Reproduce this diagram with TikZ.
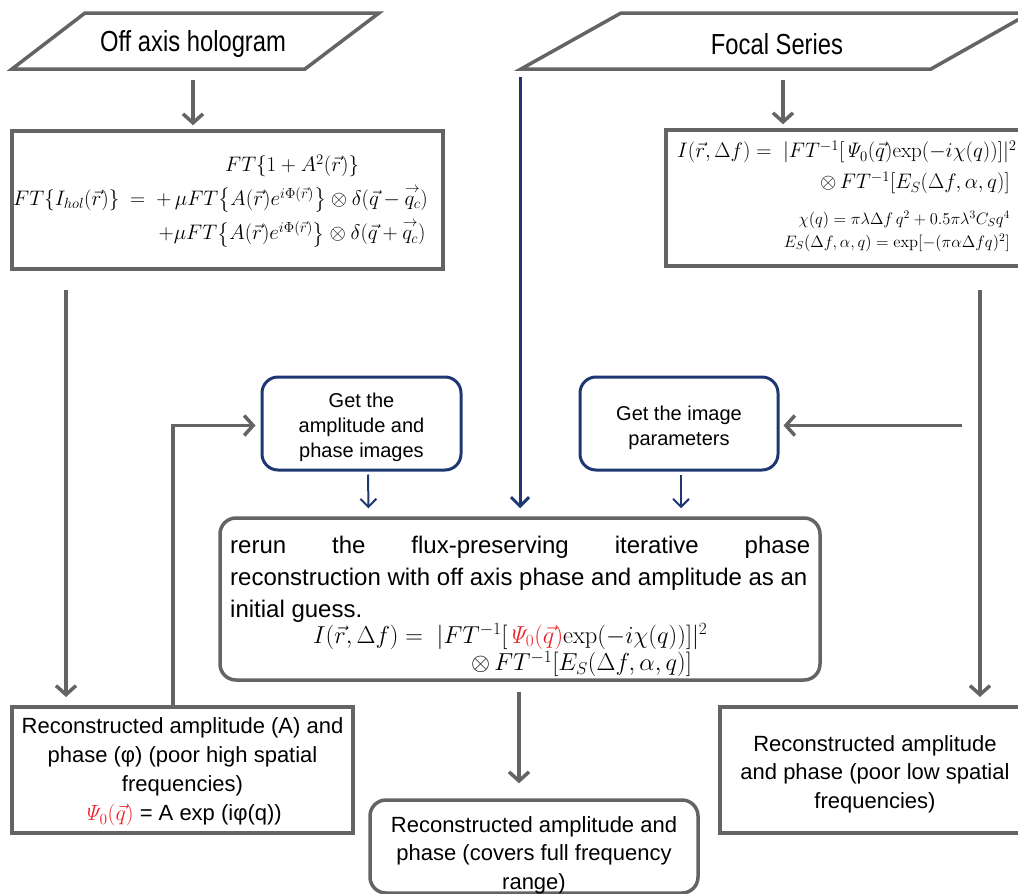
\RequirePackage{fix-cm}
\documentclass[tikz,border=0pt]{standalone}
\usepackage{amsmath}
\usepackage[no-math]{fontspec}
\setmainfont{Liberation Sans}
\newfontfamily\narrowfont[FakeStretch=0.82]{Liberation Sans}
\usetikzlibrary{arrows.meta,calc}
\definecolor{gline}{RGB}{100,100,100}
\definecolor{bline}{RGB}{30,55,115}
\definecolor{redq}{RGB}{235,30,35}
\tikzset{
  gbox/.style={draw=gline,line width=3.5pt,inner sep=0pt},
  grbox/.style={draw=gline,line width=3.5pt,rounded corners=16pt,inner sep=0pt},
  bbox/.style={draw=bline,line width=3pt,rounded corners=16pt,inner sep=0pt},
  garr/.style={draw=gline,line width=3.5pt,-{Straight Barb[length=9pt,width=20pt,line width=3.5pt]}},
  barr/.style={draw=bline,line width=2pt,-{Straight Barb[length=8pt,width=16pt,line width=2pt]}},
  blong/.style={draw=bline,line width=3pt,-{Straight Barb[length=9pt,width=18pt,line width=3pt]}},
  txt/.style={inner sep=0pt,align=center,font=\fontsize{22}{28.5}\selectfont},
  ptxt/.style={inner sep=0pt,font=\narrowfont\fontsize{29}{34}\selectfont},
  mth/.style={inner sep=0pt,font=\fontsize{21}{24}\selectfont},
  mbig/.style={inner sep=0pt,font=\fontsize{24.5}{26}\selectfont},
  mrb/.style={inner sep=0pt,font=\fontsize{21}{24}\selectfont},
  msm/.style={inner sep=0pt,font=\fontsize{16.5}{20}\selectfont},
}
\newcommand{\PsiI}{\mathit{\Psi}}
\newcommand{\qcvec}{\overset{\scriptstyle\rightarrow}{q_c}}
\begin{document}
\begin{tikzpicture}[x=1pt,y=-1pt]
\useasboundingbox (0,0) rectangle (1018,894);
% parallelograms
\draw[gline,line width=3.5pt,line join=miter] (85,13) -- (379,13) -- (305,69) -- (12,69) -- cycle;
\node[ptxt] (hol) at (193,44) {Off axis hologram};
\draw[gline,line width=3.5pt,line join=miter] (621,13) -- (1030,13) -- (931,69) -- (521,69) -- cycle;
\node[ptxt] (foc) at (777,44) {Focal Series};
\coordinate (holb) at (193,80);
\coordinate (focb) at (783,80);
\coordinate (bls) at (520,77);
% formula boxes
\node[gbox,minimum width=431pt,minimum height=138pt] (lbox) at (227.5,200) {};
\node[mth,anchor=west] (lform) at (13,199) {\renewcommand{\arraystretch}{1.42}$\begin{array}{@{}r@{\hspace{11pt}}c@{}}
  & FT\{1+A^2(\vec r)\}\\
  FT\{I_{hol}(\vec r)\}\hspace{5pt}= & +\,\mu FT\bigl\{A(\vec r)e^{i\Phi(\vec r)}\bigr\}\otimes\delta(\vec q-\qcvec)\\
  & +\mu FT\bigl\{A(\vec r)e^{i\Phi(\vec r)}\bigr\}\otimes\delta(\vec q+\qcvec)
  \end{array}$};
\node[gbox,minimum width=370pt,minimum height=136pt] (rbox) at (851,198) {};
\node[mrb,anchor=west] (g1) at (677,152) {$I(\vec r,\Delta f)=\ |FT^{-1}[\PsiI_0(\vec q)\mathrm{exp}(-i\chi(q))]|^2$};
\node[mrb,anchor=east] (g2) at (1010,183) {$\otimes\, FT^{-1}[E_S(\Delta f,\alpha,q)]$};
\node[msm,anchor=east] (g34) at (1010,231) {\renewcommand{\arraystretch}{1.15}$\begin{array}{@{}r@{}}
  \chi(q)=\pi\lambda\Delta f\,q^2+0.5\pi\lambda^3C_Sq^4\\
  E_S(\Delta f,\alpha,q)=\exp[-(\pi\alpha\Delta f q)^2]
  \end{array}$};
% blue boxes
\node[bbox,minimum width=199pt,minimum height=93pt] (amp) at (361.5,423.5) {};
\node[txt,font=\fontsize{20}{25}\selectfont] (ampt) at ($(amp.center)+(0,4)$) {Get the\\amplitude and\\phase images};
\node[bbox,minimum width=198pt,minimum height=93pt] (par) at (679,423.5) {};
\node[txt,font=\fontsize{20}{25}\selectfont] (part) at ($(par.center)+(0,4)$) {Get the image\\parameters};
% center box
\node[grbox,minimum width=600pt,minimum height=162pt] (cbox) at (520,599) {};
\node[inner sep=0pt,anchor=north west,align=left,font=\fontsize{24}{32}\selectfont] (ctext) at (230,536)
  {\hbox to 580pt{rerun\hfill the\hfill flux-preserving\hfill iterative\hfill phase}\\reconstruction with off axis phase and amplitude as an\\initial guess.};
\node[mbig,anchor=west] (cform) at (313,651) {\renewcommand{\arraystretch}{1.0}$\begin{array}{@{}l@{}}
  I(\vec r,\Delta f)=\ |FT^{-1}[\textcolor{redq}{\PsiI_0(\vec q)}\mathrm{exp}(-i\chi(q))]|^2\\
  \hspace{158pt}\otimes\, FT^{-1}[E_S(\Delta f,\alpha,q)]
  \end{array}$};
% bottom boxes
\node[gbox,minimum width=341pt,minimum height=126pt] (lob) at (182.5,770) {};
\node[txt,font=\fontsize{22}{29}\selectfont] (lobt) at (182.5,772) {Reconstructed amplitude (A) and\\phase (φ) (poor high spatial\\frequencies)\\\textcolor{redq}{$\PsiI_0(\vec q)$} = A exp (iφ(q))};
\node[gbox,minimum width=305pt,minimum height=126pt] (rob) at (872.5,770) {};
\node[txt] (robt) at (875,774) {Reconstructed amplitude\\and phase (poor low spatial\\frequencies)};
\node[grbox,minimum width=328pt,minimum height=93pt] (fin) at (534,846.5) {};
\node[txt] (fint) at (534,855) {Reconstructed amplitude and\\phase (covers full frequency\\range)};
% connectors
\draw[garr] (holb) -- ($(lbox.north)+(-34.5,-4)$);
\draw[garr] (focb) -- ($(rbox.north)+(-68,-4)$);
\draw[blong] (bls) -- ($(cbox.north)+(0,-8)$);
\coordinate (lv1) at (66,290);
\coordinate (lv2) at (66,697);
\draw[garr] (lv1) -- (lv2);
\coordinate (rv1) at (980,290);
\coordinate (rv2) at (980,697);
\draw[garr] (rv1) -- (rv2);
\coordinate (ret) at (173,707);
\draw[garr] (ret) |- ($(amp.west)+(-5,2)$);
\coordinate (rh) at (962,425.5);
\draw[garr] (rh) -- ($(par.east)+(4,2)$);
\draw[barr] ($(amp.south)+(6.5,3)$) -- ($(cbox.north)+(-151.5,-8)$);
\draw[barr] ($(par.south)+(2,3)$) -- ($(cbox.north)+(161,-8)$);
\draw[garr] ($(cbox.south)+(-1,10)$) -- ($(fin.north)+(-15,-15)$);
\end{tikzpicture}
\end{document}
